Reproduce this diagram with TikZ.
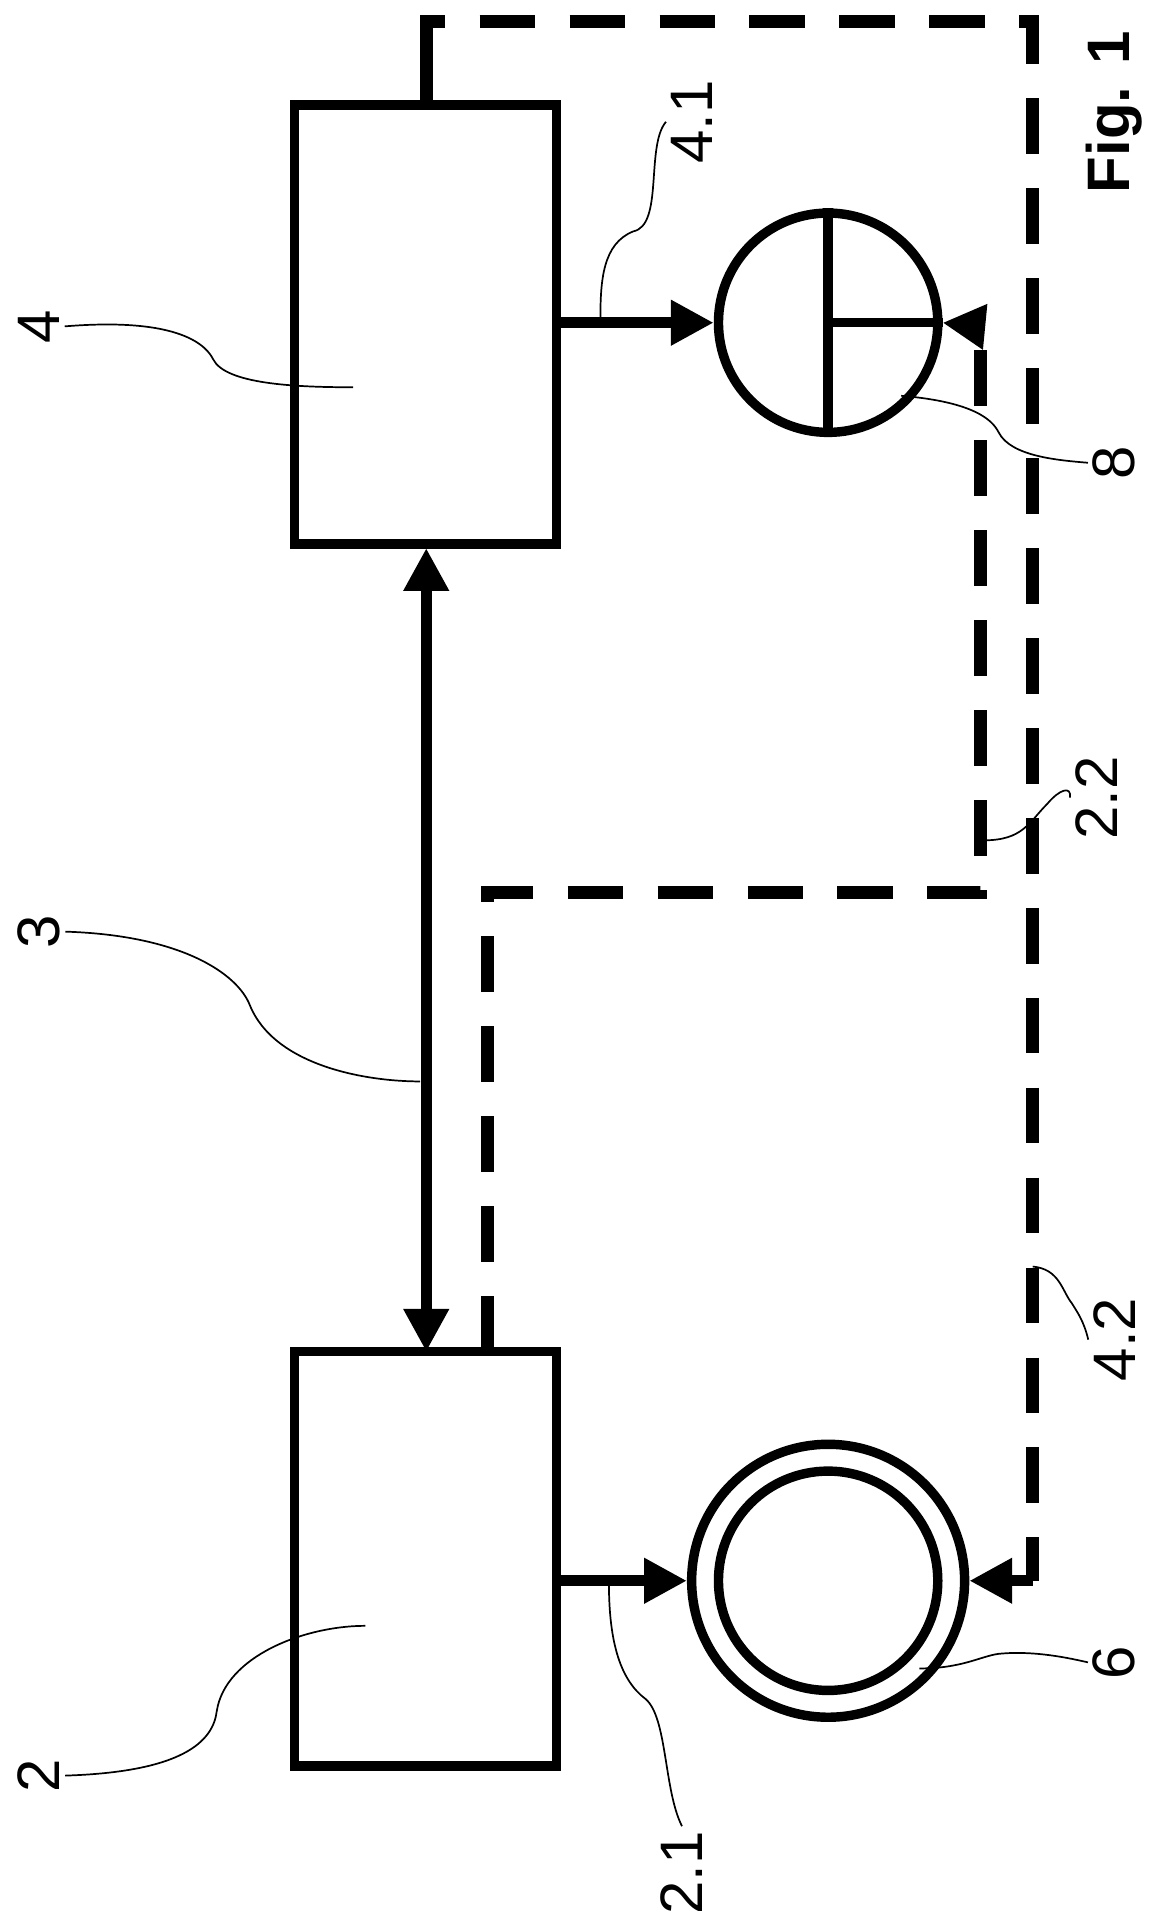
\documentclass[tikz,border=0pt]{standalone}
\usepackage{fontspec}
\setmainfont{Liberation Sans}
\usetikzlibrary{arrows.meta}
\begin{document}
\begin{tikzpicture}[
   x=0.01cm,y=-0.01cm,
   box/.style={draw,line width=2.2pt,minimum width=2.15cm,minimum height=3.6cm,inner sep=0},
   wheel/.style={draw,circle,line width=2.2pt,inner sep=0},
   to/.style={-{Triangle[length=10pt,width=10pt]},line width=2.6pt},
   both/.style={{Triangle[length=10pt,width=10pt]}-{Triangle[length=10pt,width=10pt]},line width=2.6pt},
   signal/.style={line width=3pt,dash pattern=on 13pt off 8pt},
   lead/.style={thin},
   lbl/.style={rotate=90,font=\fontsize{14}{16}\selectfont,inner sep=1pt}]
\useasboundingbox (0,0) rectangle (960,1570);
% control units
\node[box] (B4) at (349.5,266.5) {};
\node[box,minimum height=3.4cm] (B2) at (349.5,1280) {};
% wheels
\node[wheel,minimum size=1.8cm] (W8) at (680,265) {};
\draw[line width=2.2pt] (W8.north) -- (W8.south) (W8.center) -- (W8.east);
\node[wheel,minimum size=2.24cm] (W6) at (680,1298) {};
\node[wheel,minimum size=1.8cm] at (680,1298) {};
% connections
\draw[both] (350,450) -- (350,1110);
\draw[to] (B4.east |- W8.west) -- (W8.west);
\draw[to] (B2.east |- W6.west) -- (W6.west);
\draw[line width=3pt] (350,83) -- (350,48);
\draw[signal] (350,48) -- (350,18) -- (848,18) -- (848,1298);
\draw[to] (848,1298) -- (W6.east);
\draw[signal] (400,1110) -- (400,733) -- (805,733) -- (805,268);
\draw[to] (805,268) -- (W8.east);
% leader lines and labels
\node[lbl] (L4) at (32,268) {4};
\draw[lead] (L4.south) .. controls (150,260) and (170,285) .. (175,295) .. controls (185,315) and (240,318) .. (290,318);
\node[lbl] (L41) at (568,100) {4.1};
\draw[lead] (L41.north) .. controls (530,120) and (545,185) .. (520,190) .. controls (495,200) and (493,230) .. (493,262);
\node[lbl] (L8) at (915,380) {8};
\draw[lead] (740,325) .. controls (800,330) and (815,345) .. (820,355) .. controls (830,375) and (870,378) .. (L8.north);
\node[lbl] (L3) at (32,765) {3};
\draw[lead] (L3.south) .. controls (150,768) and (195,800) .. (205,825) .. controls (225,875) and (300,888) .. (345,888);
\node[lbl] (L22) at (900,655) {2.2};
\draw[lead] (808,690) .. controls (840,690) and (845,675) .. (860,660) .. controls (870,648) and (880,645) .. (L22.north);
\node[lbl] (L42) at (915,1100) {4.2};
\draw[lead] (848,1040) .. controls (870,1042) and (872,1060) .. (880,1070) .. controls (885,1078) and (890,1085) .. (L42.north);
\node[lbl] (L6) at (915,1365) {6};
\draw[lead] (755,1370) .. controls (790,1370) and (805,1360) .. (820,1358) .. controls (850,1355) and (880,1362) .. (L6.north);
\node[lbl] (L2) at (32,1458) {2};
\draw[lead] (L2.south) .. controls (150,1455) and (175,1430) .. (178,1405) .. controls (185,1360) and (250,1335) .. (300,1335);
\node[lbl] (L21) at (560,1538) {2.1};
\draw[lead] (500,1300) .. controls (500,1350) and (510,1380) .. (530,1395) .. controls (548,1410) and (545,1470) .. (L21.east);
\node[lbl,font=\bfseries\fontsize{14}{16}\selectfont] (fig) at (915,92) {Fig. 1};
\end{tikzpicture}
\end{document}
